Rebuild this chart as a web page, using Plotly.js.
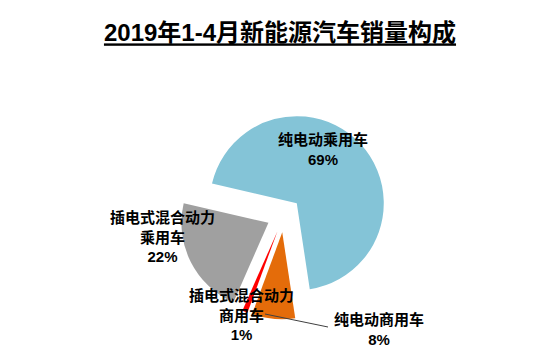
<!DOCTYPE html>
<html><head><meta charset="utf-8">
<script src="https://cdn.plot.ly/plotly-3.0.1.min.js"></script>
<style>html,body{margin:0;padding:0;background:#fff}</style>
</head><body><div id="chart" style="width:547px;height:356px"></div>
<script>
const titleText = '2019年1-4月新能源汽车销量构成';
const categories = ['纯电动乘用车', '纯电动商用车', '插电式混合动力商用车', '插电式混合动力乘用车'];
const labelLines = [['纯电动乘用车'], ['纯电动商用车'], ['插电式混合动力', '商用车'], ['插电式混合动力', '乘用车']];
const shares = [69, 8, 1, 22];
const colors = ['#84C4D7', '#E46C0A', '#FF0000', '#A0A0A0'];

const W = 547, H = 356;
const FONT = 'Liberation Sans, Arial, Noto Sans CJK SC, sans-serif';
// label anchor positions (pixels)
const labelPos = [[323, 149], [379, 329], [241, 315], [162, 237]];

const total = shares.reduce((a, b) => a + b, 0);
const annotations = categories.map((c, i) => ({
  xref: 'paper', yref: 'paper',
  x: labelPos[i][0] / W, y: 1 - labelPos[i][1] / H,
  xanchor: 'center', yanchor: 'middle',
  showarrow: false,
  text: '<b>' + labelLines[i].join('<br>') + '<br>' + Math.round(shares[i] / total * 100) + '%</b>',
  font: {family: FONT, size: 15, color: '#000'},
  align: 'center'
}));

const data = [{
  type: 'pie',
  labels: categories,
  values: shares,
  sort: false,
  direction: 'clockwise',
  rotation: -77,
  pull: [0.2, 0.2, 0.2, 0.2],
  marker: {colors: colors, line: {width: 0}},
  textinfo: 'none',
  hoverinfo: 'skip',
  showlegend: false,
  domain: {x: [179.6 / W, 388.4 / W], y: [36.6 / H, 245.4 / H]}
}];

const layout = {
  width: W, height: H,
  margin: {l: 0, r: 0, t: 0, b: 0},
  paper_bgcolor: '#fff',
  title: {
    text: '<b><u>' + titleText + '</u></b>',
    font: {family: FONT, size: 24, color: '#000'},
    x: 280 / W, xanchor: 'center', xref: 'paper',
    y: 1 - 33 / H, yanchor: 'middle', yref: 'container'
  },
  annotations: annotations,
  shapes: [{
    type: 'line', xref: 'paper', yref: 'paper',
    x0: 265 / W, y0: 1 - 314 / H, x1: 328 / W, y1: 1 - 327 / H,
    line: {color: '#404040', width: 1}
  }]
};

Plotly.newPlot('chart', data, layout, {staticPlot: true, displayModeBar: false});
</script>
</body></html>
